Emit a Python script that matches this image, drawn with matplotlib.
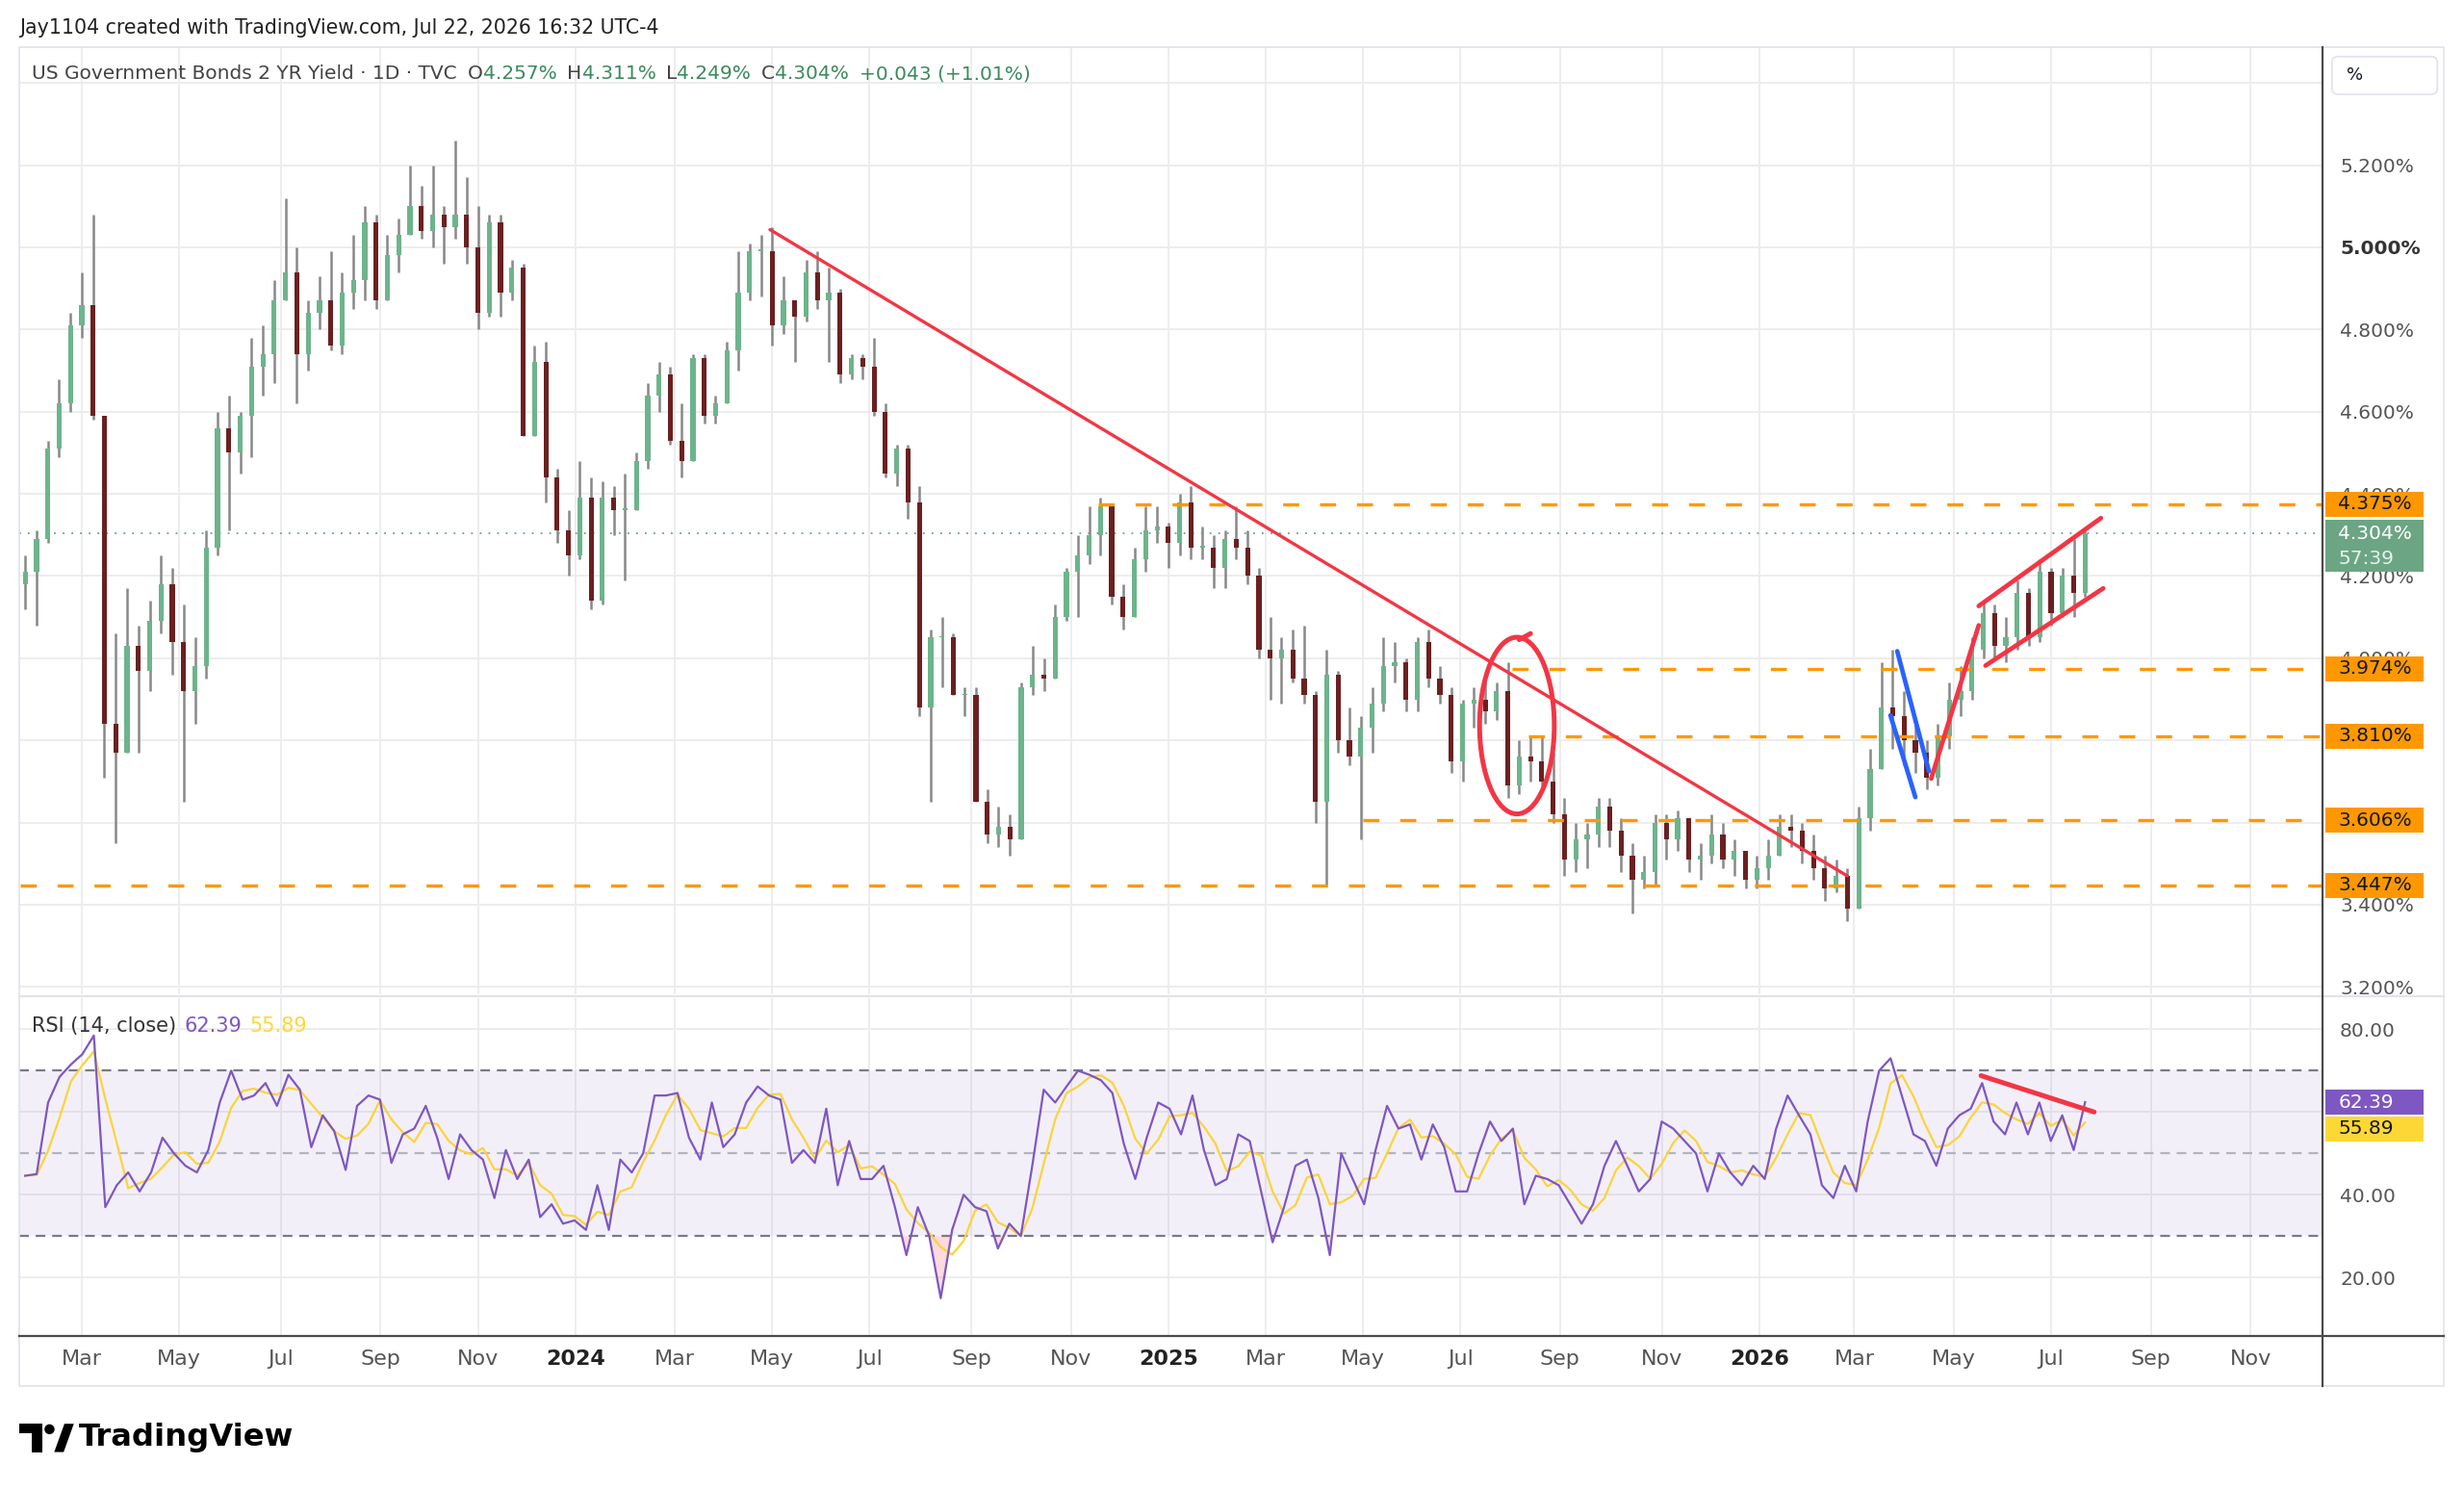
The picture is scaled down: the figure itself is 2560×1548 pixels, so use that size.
import numpy as np
import pandas as pd
import matplotlib
matplotlib.use('Agg')
import matplotlib.pyplot as plt
import matplotlib.transforms as mtransforms
from matplotlib.patches import Ellipse, Rectangle, Polygon, Circle, FancyBboxPatch

# weekly bars (Friday closes), US 2Y yield in %
first_open = 4.18
closes = [
    4.21, 4.29, 4.51, 4.62, 4.81, 4.86, 4.59, 3.84, 3.77, 4.03,
    3.97, 4.09, 4.18, 4.04, 3.92, 3.98, 4.27, 4.56, 4.50, 4.59,
    4.71, 4.74, 4.87, 4.94, 4.74, 4.84, 4.87, 4.76, 4.89, 4.92,
    5.06, 4.87, 4.98, 5.03, 5.10, 5.04, 5.08, 5.05, 5.08, 5.00,
    4.84, 5.06, 4.89, 4.95, 4.54, 4.72, 4.44, 4.31, 4.25, 4.39,
    4.14, 4.39, 4.36, 4.36, 4.48, 4.64, 4.69, 4.53, 4.48, 4.73,
    4.59, 4.62, 4.75, 4.89, 4.99, 4.99, 4.81, 4.87, 4.83, 4.94,
    4.87, 4.89, 4.69, 4.73, 4.71, 4.60, 4.45, 4.51, 4.38, 3.88,
    4.05, 4.05, 3.91, 3.91, 3.65, 3.57, 3.59, 3.56, 3.93, 3.96,
    3.95, 4.10, 4.21, 4.25, 4.30, 4.37, 4.15, 4.10, 4.24, 4.31,
    4.32, 4.28, 4.38, 4.27, 4.27, 4.22, 4.29, 4.27, 4.20, 4.02,
    4.00, 4.02, 3.95, 3.91, 3.65, 3.96, 3.80, 3.76, 3.83, 3.89,
    3.98, 3.99, 3.90, 4.04, 3.95, 3.91, 3.75, 3.89, 3.90, 3.87,
    3.92, 3.69, 3.76, 3.75, 3.70, 3.62, 3.51, 3.56, 3.57, 3.64,
    3.58, 3.52, 3.46, 3.48, 3.60, 3.56, 3.61, 3.51, 3.52, 3.57,
    3.51, 3.53, 3.46, 3.49, 3.52, 3.59, 3.58, 3.53, 3.49, 3.44,
    3.47, 3.39, 3.61, 3.73, 3.88, 3.86, 3.80, 3.77, 3.71, 3.81,
    3.90, 3.92, 4.02, 4.11, 4.03, 4.05, 4.16, 4.05, 4.21, 4.11,
    4.20, 4.16, 4.304,
]
highs = [
    4.25, 4.31, 4.53, 4.68, 4.84, 4.94, 5.08, 4.30, 4.06, 4.17,
    4.08, 4.14, 4.25, 4.22, 4.13, 4.05, 4.31, 4.60, 4.64, 4.60,
    4.78, 4.81, 4.92, 5.12, 5.00, 4.87, 4.93, 4.99, 4.94, 5.03,
    5.10, 5.08, 5.03, 5.07, 5.20, 5.15, 5.20, 5.10, 5.26, 5.17,
    5.10, 5.08, 5.08, 4.97, 4.96, 4.76, 4.77, 4.46, 4.36, 4.48,
    4.44, 4.43, 4.42, 4.45, 4.50, 4.67, 4.72, 4.71, 4.62, 4.74,
    4.74, 4.64, 4.77, 4.99, 5.01, 5.03, 5.05, 4.93, 4.86, 4.97,
    4.99, 4.95, 4.90, 4.74, 4.74, 4.78, 4.62, 4.52, 4.52, 4.42,
    4.07, 4.10, 4.06, 3.93, 3.93, 3.68, 3.64, 3.62, 3.94, 4.03,
    4.00, 4.13, 4.22, 4.30, 4.37, 4.39, 4.36, 4.18, 4.27, 4.37,
    4.37, 4.33, 4.40, 4.42, 4.32, 4.30, 4.31, 4.37, 4.31, 4.22,
    4.10, 4.05, 4.07, 4.08, 3.92, 4.02, 3.97, 3.88, 3.86, 3.93,
    4.05, 4.04, 4.00, 4.05, 4.07, 3.98, 3.93, 3.90, 3.93, 3.95,
    3.94, 3.99, 3.80, 3.81, 3.81, 3.77, 3.66, 3.60, 3.60, 3.66,
    3.66, 3.61, 3.55, 3.52, 3.62, 3.62, 3.63, 3.60, 3.55, 3.62,
    3.60, 3.56, 3.53, 3.52, 3.56, 3.62, 3.62, 3.60, 3.57, 3.52,
    3.51, 3.49, 3.64, 3.78, 3.99, 4.02, 3.92, 3.85, 3.80, 3.84,
    3.94, 3.98, 4.05, 4.14, 4.13, 4.10, 4.19, 4.17, 4.24, 4.22,
    4.22, 4.29, 4.311,
]
lows = [
    4.12, 4.08, 4.28, 4.49, 4.60, 4.78, 4.58, 3.71, 3.55, 3.85,
    3.77, 3.92, 4.06, 3.96, 3.65, 3.84, 3.95, 4.25, 4.31, 4.45,
    4.49, 4.64, 4.67, 4.88, 4.62, 4.70, 4.80, 4.75, 4.74, 4.85,
    4.87, 4.85, 4.90, 4.94, 5.06, 5.02, 5.00, 4.96, 5.02, 4.96,
    4.80, 4.83, 4.83, 4.87, 4.54, 4.55, 4.38, 4.28, 4.20, 4.24,
    4.12, 4.13, 4.30, 4.19, 4.36, 4.46, 4.60, 4.52, 4.44, 4.48,
    4.57, 4.57, 4.62, 4.70, 4.87, 4.88, 4.76, 4.79, 4.72, 4.82,
    4.85, 4.72, 4.67, 4.68, 4.68, 4.59, 4.44, 4.42, 4.34, 3.86,
    3.65, 3.93, 3.91, 3.86, 3.65, 3.55, 3.54, 3.52, 3.60, 3.91,
    3.92, 3.95, 4.09, 4.10, 4.23, 4.25, 4.13, 4.07, 4.10, 4.21,
    4.28, 4.22, 4.25, 4.24, 4.24, 4.17, 4.17, 4.24, 4.18, 4.00,
    3.90, 3.89, 3.94, 3.89, 3.60, 3.45, 3.77, 3.74, 3.56, 3.77,
    3.87, 3.94, 3.87, 3.87, 3.93, 3.89, 3.72, 3.70, 3.83, 3.84,
    3.85, 3.66, 3.67, 3.70, 3.69, 3.60, 3.47, 3.48, 3.49, 3.54,
    3.54, 3.48, 3.38, 3.44, 3.45, 3.51, 3.53, 3.48, 3.46, 3.50,
    3.49, 3.47, 3.44, 3.44, 3.46, 3.52, 3.54, 3.50, 3.46, 3.41,
    3.43, 3.36, 3.40, 3.58, 3.74, 3.78, 3.74, 3.72, 3.68, 3.69,
    3.78, 3.86, 3.90, 4.00, 4.00, 3.99, 4.02, 4.03, 4.04, 4.08,
    4.10, 4.10, 4.15,
]

# RSI(14) read off the lower pane, roughly one value per week
rsi = [
    44.6, 45, 62.3, 68.5, 71.5, 74, 78.5, 37, 42.3, 45.4,
    40.8, 45.4, 53.8, 50, 47, 45.4, 50.8, 62.3, 70, 63,
    64, 67, 61.5, 69, 65.4, 51.5, 59.2, 55.4, 46, 61.5,
    64, 63, 47.7, 54.6, 56, 61.5, 53.8, 43.8, 54.6, 50.8,
    48.5, 39.2, 50.8, 43.8, 48.5, 34.6, 37.7, 33, 33.8, 31.5,
    42.3, 31.5, 48.5, 45.4, 50, 64, 64, 64.6, 53.8, 48.5,
    62.3, 51.5, 54.6, 62.3, 66.2, 64, 63, 47.7, 50.8, 47.7,
    60.8, 42.3, 53, 43.8, 43.8, 47, 37, 25.4, 37, 30,
    15, 31.5, 40, 37, 36, 27, 33, 30, 47, 65.4,
    62.3, 66.2, 70, 69, 67.7, 64.6, 52.3, 43.8, 53.8, 62.3,
    60.8, 54.6, 64, 50.8, 42.3, 43.8, 54.6, 53, 40.8, 28.5,
    37, 47, 48.5, 39.2, 25.4, 50, 43.8, 37.7, 50.8, 61.5,
    56, 57, 48.5, 57, 51.5, 40.8, 40.8, 50, 57.7, 53,
    56, 37.7, 44.6, 43.8, 42.3, 37.7, 33, 37.7, 47, 53,
    47, 40.8, 43.8, 57.7, 56, 53, 50, 40.8, 50, 45.4,
    42.3, 47, 43.8, 56, 64, 59.2, 54.6, 42.3, 39.2, 47,
    40.8, 57.7, 70, 73, 63.8, 54.6, 53, 47, 56, 59.2,
    60.8, 67, 57.7, 54.6, 62.3, 54.6, 62.3, 53, 59.2, 50.8,
    62.39,
]

levels = [4.375, 3.974, 3.810, 3.606, 3.447]
level_starts = ['2024-11-19', '2025-08-01', '2025-08-12', '2025-05-01', '2023-01-23']
last_close = 4.304
rsi_last, rsi_ma_last = 62.39, 55.89

price_ticks = [3.2, 3.4, 3.6, 3.8, 4.0, 4.2, 4.4, 4.6, 4.8, 5.0, 5.2]
price_labels = ['3.200%', '3.400%', '', '', '4.000%', '4.200%', '4.400%',
                '4.600%', '4.800%', '5.000%', '5.200%']
rsi_ticks = [20, 40, 60, 80]
rsi_labels = ['20.00', '40.00', '', '80.00']
tick_dates = ['2023-03-01', '2023-05-01', '2023-07-01', '2023-09-01', '2023-11-01',
              '2024-01-01', '2024-03-01', '2024-05-01', '2024-07-01', '2024-09-01', '2024-11-01',
              '2025-01-01', '2025-03-01', '2025-05-01', '2025-07-01', '2025-09-01', '2025-11-01',
              '2026-01-01', '2026-03-01', '2026-05-01', '2026-07-01', '2026-09-01', '2026-11-01']
tick_labels = ['Mar', 'May', 'Jul', 'Sep', 'Nov',
               '2024', 'Mar', 'May', 'Jul', 'Sep', 'Nov',
               '2025', 'Mar', 'May', 'Jul', 'Sep', 'Nov',
               '2026', 'Mar', 'May', 'Jul', 'Sep', 'Nov']

BASE = '2023-01-23'


def bx(d):
    d = np.array(d, dtype='datetime64[D]')
    d = np.busday_offset(d, 0, roll='forward')
    return np.busday_count(BASE, d)


NARROW = ['Liberation Sans Narrow', 'DejaVu Sans']
plt.rcParams['font.family'] = ['DejaVu Sans']

S = 2560 / 1568          # reference px per screen px
HD = 1548 / S            # screen height


def fx(x):
    return x / 1568


def fy(y):
    return 1 - y / HD


def inch(x, y):
    return (x * S / 100, (HD - y) * S / 100)


fig = plt.figure(figsize=(25.6, 15.48), dpi=100)
fig.patch.set_facecolor('white')
ax = fig.add_axes([fx(12), fy(633), fx(1478) - fx(12), fy(30) - fy(633)])
ax2 = fig.add_axes([fx(12), fy(850), fx(1478) - fx(12), fy(635) - fy(850)], sharex=ax)

xmin, xmax = -0.8, 1016.9
ax.set_xlim(xmin, xmax)
ax.set_ylim(3.181, 5.487)
ax2.set_ylim(5.9, 87.6)
for a in (ax, ax2):
    for s in a.spines.values():
        s.set_visible(False)
    a.set_facecolor('white')

grid_c = '#ececec'
tx = bx(tick_dates)
for a in (ax, ax2):
    for t in tx:
        a.axvline(t, color=grid_c, lw=1.3, zorder=0)
for p in price_ticks + [5.4]:
    ax.axhline(p, color=grid_c, lw=1.3, zorder=0)
for rr in rsi_ticks:
    ax2.axhline(rr, color=grid_c, lw=1.3, zorder=0)

# candles
dates = pd.date_range('2023-01-27', periods=len(closes), freq='W-FRI')
x = bx(dates.values.astype('datetime64[D]')) - 2
c = np.array(closes)
o = np.r_[first_open, c[:-1]]
bot = np.minimum(o, c)
top = np.maximum(o, c)
hi = np.maximum(highs, top)
lo = np.minimum(lows, bot)
up = c >= o
ax.vlines(x, lo, hi, color='#888888', lw=1.8, zorder=2)
ax.bar(x, np.maximum(top - bot, 0.004), bottom=bot, width=2.2,
       color=np.where(up, '#6db48c', '#6b2020'), lw=0, zorder=3)

ax.axhline(last_close, color='#6ca584', lw=1.3, ls=(0, (1, 4)), zorder=2)

orange = '#ff9800'
for lv, st in zip(levels, level_starts):
    ax.hlines(lv, bx(st), xmax, color=orange, lw=2.4, ls=(0, (5, 6.5)), zorder=4)

red = '#f23645'
blue = '#2962ff'


def seg(a, d1, p1, d2, p2, color, lw):
    a.plot([bx(d1), bx(d2)], [p1, p2], color=color, lw=lw,
           solid_capstyle='round', zorder=6)


seg(ax, '2024-04-30', 5.043, '2026-02-25', 3.47, red, 2.4)
seg(ax, '2026-03-27', 4.017, '2026-04-16', 3.725, blue, 3.4)
seg(ax, '2026-03-24', 3.861, '2026-04-08', 3.662, blue, 3.4)
seg(ax, '2026-04-17', 3.707, '2026-05-18', 4.080, red, 3.4)
seg(ax, '2026-05-18', 4.127, '2026-07-31', 4.341, red, 3.4)
seg(ax, '2026-05-21', 3.982, '2026-08-03', 4.170, red, 3.4)
seg(ax, '2025-08-06', 4.045, '2025-08-13', 4.06, red, 3.6)
ax.add_patch(Ellipse((bx('2025-08-05'), 3.836), 33, 0.43, fill=False,
                     ec=red, lw=3.6, zorder=6))

# price scale
ax.yaxis.tick_right()
ax.set_yticks(price_ticks, labels=price_labels)
ax.tick_params(axis='y', length=0, pad=13, labelsize=14.5, labelcolor='#555555')
ax.tick_params(axis='x', length=0, labelbottom=False)
for lab in ax.get_yticklabels():
    if lab.get_text() == '5.000%':
        lab.set_fontweight('bold')
        lab.set_color('#333333')

bt = mtransforms.blended_transform_factory(ax.transAxes, ax.transData)
bx0 = (1480 - 12) / 1466
bw = (1542 - 1480) / 1466
tx0 = (1488 - 12) / 1466
for lv in levels:
    h = 16 / 261.5
    ax.add_patch(Rectangle((bx0, lv - h / 2), bw, h, transform=bt, fc=orange,
                           ec='none', clip_on=False, zorder=10))
    ax.text(tx0, lv, f'{lv:.3f}%', transform=bt, va='center', ha='left',
            fontsize=14.5, color='#131722', clip_on=False, zorder=11)
ax.add_patch(Rectangle((bx0, 4.2096), bw, 4.336 - 4.2096, transform=bt, fc='#6ca584',
                       ec='none', clip_on=False, zorder=10))
ax.text(tx0, 4.304, f'{last_close:.3f}%', transform=bt, va='center', ha='left',
        fontsize=14.5, color='white', clip_on=False, zorder=11)
ax.text(tx0, 4.243, '57:39', transform=bt, va='center', ha='left',
        fontsize=14.5, color='#e8f3ec', clip_on=False, zorder=11)

# RSI pane
xr = np.linspace(x[0], x[-1], len(rsi))
rs = np.array(rsi)
ma = pd.Series(rsi).rolling(3, min_periods=1).mean().values
ax2.axhspan(30, 70, color='#7e57c2', alpha=0.09, lw=0, zorder=0.5)
ax2.axhline(70, color='#787b86', lw=1.6, ls=(0, (4.5, 3.2)), zorder=1)
ax2.axhline(30, color='#787b86', lw=1.6, ls=(0, (4.5, 3.2)), zorder=1)
ax2.axhline(50, color='#b2b5be', lw=1.6, ls=(0, (4.5, 3.2)), zorder=1)
ax2.fill_between(xr, rs, 30, where=rs < 30, interpolate=True, color=red, alpha=0.18, lw=0)
ax2.plot(xr, ma, color='#fbd43b', lw=1.6, zorder=3)
ax2.plot(xr, rs, color='#7e57c2', lw=1.6, zorder=4)
seg(ax2, '2026-05-19', 68.8, '2026-07-28', 60.0, red, 3.6)

ax2.yaxis.tick_right()
ax2.set_yticks(rsi_ticks, labels=rsi_labels)
ax2.tick_params(axis='y', length=0, pad=13, labelsize=14.5, labelcolor='#555555')
bt2 = mtransforms.blended_transform_factory(ax2.transAxes, ax2.transData)
for val, fc, tc in ((rsi_last, '#7e57c2', 'white'), (rsi_ma_last, '#fdd835', '#131722')):
    h = 16 / 2.633
    ax2.add_patch(Rectangle((bx0, val - h / 2), bw, h, transform=bt2, fc=fc, ec='none',
                            clip_on=False, zorder=10))
    ax2.text(tx0, val, f'{val:.2f}', transform=bt2, va='center', ha='left',
             fontsize=14.5, color=tc, clip_on=False, zorder=11)

ax2.set_xticks(tx, labels=tick_labels)
ax2.tick_params(axis='x', length=0, pad=10, labelsize=16, labelcolor='#555555')
for lab in ax2.get_xticklabels():
    lab.set_family(NARROW)
    if lab.get_text().isdigit():
        lab.set_fontweight('bold')
        lab.set_color('#222222')


# frame lines
def fline(x1, y1, x2, y2, color, lw):
    fig.add_artist(plt.Line2D([fx(x1), fx(x2)], [fy(y1), fy(y2)], color=color, lw=lw,
                              transform=fig.transFigure))


fig.add_artist(Rectangle((fx(12), fy(882)), fx(1555) - fx(12), fy(30) - fy(882),
                         fill=False, ec='#e0e3eb', lw=1.2, transform=fig.transFigure))
fline(12, 634, 1555, 634, '#e0e3eb', 1.5)
fline(12, 850, 1555, 850, '#4a4a4a', 1.6)
fline(1478, 30, 1478, 882, '#4a4a4a', 1.6)

# "%" button
fig.add_artist(FancyBboxPatch(inch(1484, 60), 67 * S / 100, 24 * S / 100,
                              boxstyle='round,pad=0,rounding_size=0.06',
                              fc='white', ec='#e0e3eb', lw=1.2, transform=fig.dpi_scale_trans))
fig.text(fx(1493), fy(48), '%', fontsize=13, color='#131722', va='center', ha='left')

# texts
r = fig.canvas.get_renderer()


def text_line(pieces, x0, y0, size, target_w, weight='normal'):
    def build(sz):
        arts = []
        xx = x0
        for txt, col, gap in pieces:
            t = fig.text(fx(xx), fy(y0), txt, color=col, fontsize=sz, family=NARROW,
                         fontweight=weight, va='center', ha='left')
            w = t.get_window_extent(r).width / S
            arts.append(t)
            xx += w + gap * sz
        return arts, xx - x0
    arts, w = build(size)
    for a in arts:
        a.remove()
    arts, w = build(size * target_w / w)
    return arts


text_line([('Jay1104 created with TradingView.com, Jul 22, 2026 16:32 UTC-4', '#222222', 0)],
          12, 18, 16, 409)
green = '#3b8a5f'
dark = '#444444'
text_line([('US Government Bonds 2 YR Yield · 1D · TVC', dark, 0.5),
           ('O', dark, 0), ('4.257%', green, 0.45),
           ('H', dark, 0), ('4.311%', green, 0.45),
           ('L', dark, 0), ('4.249%', green, 0.45),
           ('C', dark, 0), ('4.304%', green, 0.45),
           ('+0.043 (+1.01%)', green, 0)], 20, 47, 16, 637)
text_line([('RSI (14, close)', '#333333', 0.35), ('62.39', '#7e57c2', 0.35),
           ('55.89', '#fdd835', 0)], 20, 653, 16, 176)

# TradingView logo
for patch in (Polygon([inch(12, 906), inch(27, 906), inch(27, 924), inch(20, 924),
                       inch(20, 912), inch(12, 912)], closed=True),
              Circle(inch(31.5, 909.5), 3.2 * S / 100),
              Polygon([inch(34.5, 924), inch(41, 906), inch(47, 906), inch(40.5, 924)], closed=True)):
    patch.set_facecolor('#000000')
    patch.set_edgecolor('none')
    patch.set_transform(fig.dpi_scale_trans)
    fig.add_artist(patch)
text_line([('TradingView', '#000000', 0)], 50, 915, 20, 137, weight='bold')

fig.savefig('out.png', dpi=100, facecolor='white')
